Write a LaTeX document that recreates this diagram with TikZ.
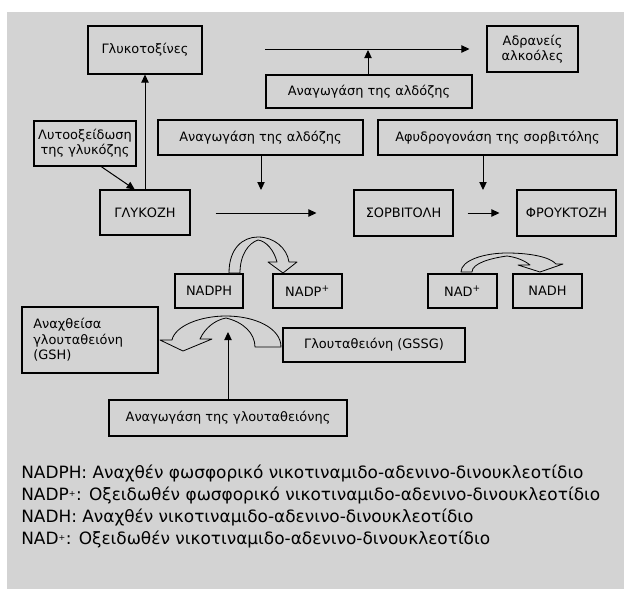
\documentclass[tikz,border=0pt]{standalone}
\usepackage{fontspec}
\setmainfont{DejaVu Sans}
\usetikzlibrary{arrows.meta}
\definecolor{panel}{HTML}{D3D3D3}
\tikzset{
  box/.style={draw, line width=0.8pt, inner sep=0pt, align=center, font=\fontsize{9.7}{11.5}\selectfont},
  arr/.style={-{Triangle[length=6pt,width=5.5pt]}, line width=0.75pt},
  hollowarrow/.style={fill=panel, draw, line width=0.6pt, line join=round}
}
\begin{document}
\begin{tikzpicture}[x=0.75pt,y=-0.75pt]
  \useasboundingbox (0,0) rectangle (624,589);
  \fill[panel] (7,12) rectangle (624,589);

  % top row
  \node[box, minimum width=85.5pt, minimum height=36pt] (toxins) at (145,50) {Γλυκοτοξίνες};
  \node[box, minimum width=68.25pt, minimum height=34.5pt] (alcohols) at (532.5,49) {Αδρανείς\\αλκοόλες};
  \node[box, minimum width=154.5pt, minimum height=24.75pt] (aldred1) at (369,91.5) {Αναγωγάση της αλδόζης};

  % enzymes
  \node[box, minimum width=76.5pt, minimum height=33.75pt] (autox) at (85,143.5) {Λυτοοξείδωση\\της γλυκόζης};
  \node[box, minimum width=153.75pt, minimum height=26.25pt] (aldred2) at (260.5,137.5) {Αναγωγάση της αλδόζης};
  \node[box, minimum width=179.25pt, minimum height=26.25pt] (dehydr) at (497.5,137.5) {Αφυδρογονάση της σορβιτόλης};

  % main pathway
  \node[box, minimum width=67.5pt, minimum height=33.75pt] (glucose) at (145,212.5) {ΓΛΥΚΟΖΗ};
  \node[box, minimum width=74.25pt, minimum height=34.5pt] (sorbitol) at (403.5,213) {ΣΟΡΒΙΤΟΛΗ};
  \node[box, minimum width=74.25pt, minimum height=34.5pt] (fructose) at (566.5,213) {ΦΡΟΥΚΤΟΖΗ};

  % cofactors
  \node[box, minimum width=51pt, minimum height=25.5pt] (nadph) at (209,291) {NADPH};
  \node[box, minimum width=51.75pt, minimum height=25.5pt] (nadp) at (307.5,291) {NADP\textsuperscript{+}};
  \node[box, minimum width=51.75pt, minimum height=25.5pt] (nad) at (462.5,291) {NAD\textsuperscript{+}};
  \node[box, minimum width=51.75pt, minimum height=25.5pt] (nadh) at (547.5,291) {NADH};

  % glutathione
  \node[box, minimum width=102pt, minimum height=49.5pt, align=left, text width=85pt] (gsh) at (90,340) {Αναχθείσα\\γλουταθειόνη\\(GSH)};
  \node[box, minimum width=136.5pt, minimum height=25.5pt] (gssg) at (374,345) {Γλουταθειόνη (GSSG)};
  \node[box, minimum width=178.5pt, minimum height=27pt] (glured) at (228,418) {Αναγωγάση της γλουταθειόνης};

  \coordinate (join) at (368,50);
  \coordinate (a2end) at (261,190);
  \coordinate (dhend) at (483,190);
  \coordinate (grend) at (228,332);

  % arrows
  \draw[arr] (glucose.north) -- (toxins.south);
  \draw[arr] (autox.-55) -- (glucose.114);
  \draw[arr, shorten <=47pt, shorten >=12.75pt] (toxins.east |- alcohols.west) -- (alcohols.west);
  \draw[arr] (aldred1.north -| join) -- (join);
  \draw[arr] (aldred2.south -| a2end) -- (a2end);
  \draw[arr] (dehydr.south -| dhend) -- (dhend);
  \draw[arr, shorten <=18.75pt, shorten >=27.75pt] (glucose.east |- sorbitol.west) -- (sorbitol.west);
  \draw[arr, shorten <=10.5pt, shorten >=12.75pt] (sorbitol.east) -- (fructose.west);
  \draw[arr] (glured.north) -- (grend);

  % hollow curved arrows
  \draw[hollowarrow] (229,273) .. controls (229,248) and (243,237) .. (258,237)
    .. controls (274,237) and (287,248) .. (289,262) -- (297,262) -- (283,273) -- (268,262) -- (277,262)
    .. controls (274,250) and (266,241) .. (258,240)
    .. controls (249,243) and (240,254) .. (240,273) -- cycle;
  \draw[hollowarrow] (281,347) .. controls (281,328) and (255,316) .. (226,316)
    .. controls (200,316) and (175,326) .. (172,340) -- (160,340) -- (183,351) -- (212,339) -- (200,339)
    .. controls (205,328) and (215,320) .. (226,318)
    .. controls (243,322) and (255,333) .. (255,347) -- cycle;
  \draw[hollowarrow] (461,272) .. controls (461,260) and (485,253) .. (507,253)
    .. controls (530,253) and (550,257) .. (556,264) -- (563,264) -- (540,272) -- (518,265) -- (530,265)
    .. controls (524,260) and (515,257) .. (507,256)
    .. controls (492,258) and (472,263) .. (472,272) -- cycle;

  % legend
  \node[anchor=west, align=left, inner sep=0pt, font=\fontsize{12.7}{16.5}\selectfont] (legend) at (21,506)
    {NADPH: Αναχθέν φωσφορικό νικοτιναμιδο-αδενινο-δινουκλεοτίδιο\\
     NADP{\fontsize{8}{8}\selectfont\textsuperscript{+}}: Οξειδωθέν φωσφορικό νικοτιναμιδο-αδενινο-δινουκλεοτίδιο\\
     NADH: Αναχθέν νικοτιναμιδο-αδενινο-δινουκλεοτίδιο\\
     NAD{\fontsize{8}{8}\selectfont\textsuperscript{+}}: Οξειδωθέν νικοτιναμιδο-αδενινο-δινουκλεοτίδιο};
\end{tikzpicture}
\end{document}
